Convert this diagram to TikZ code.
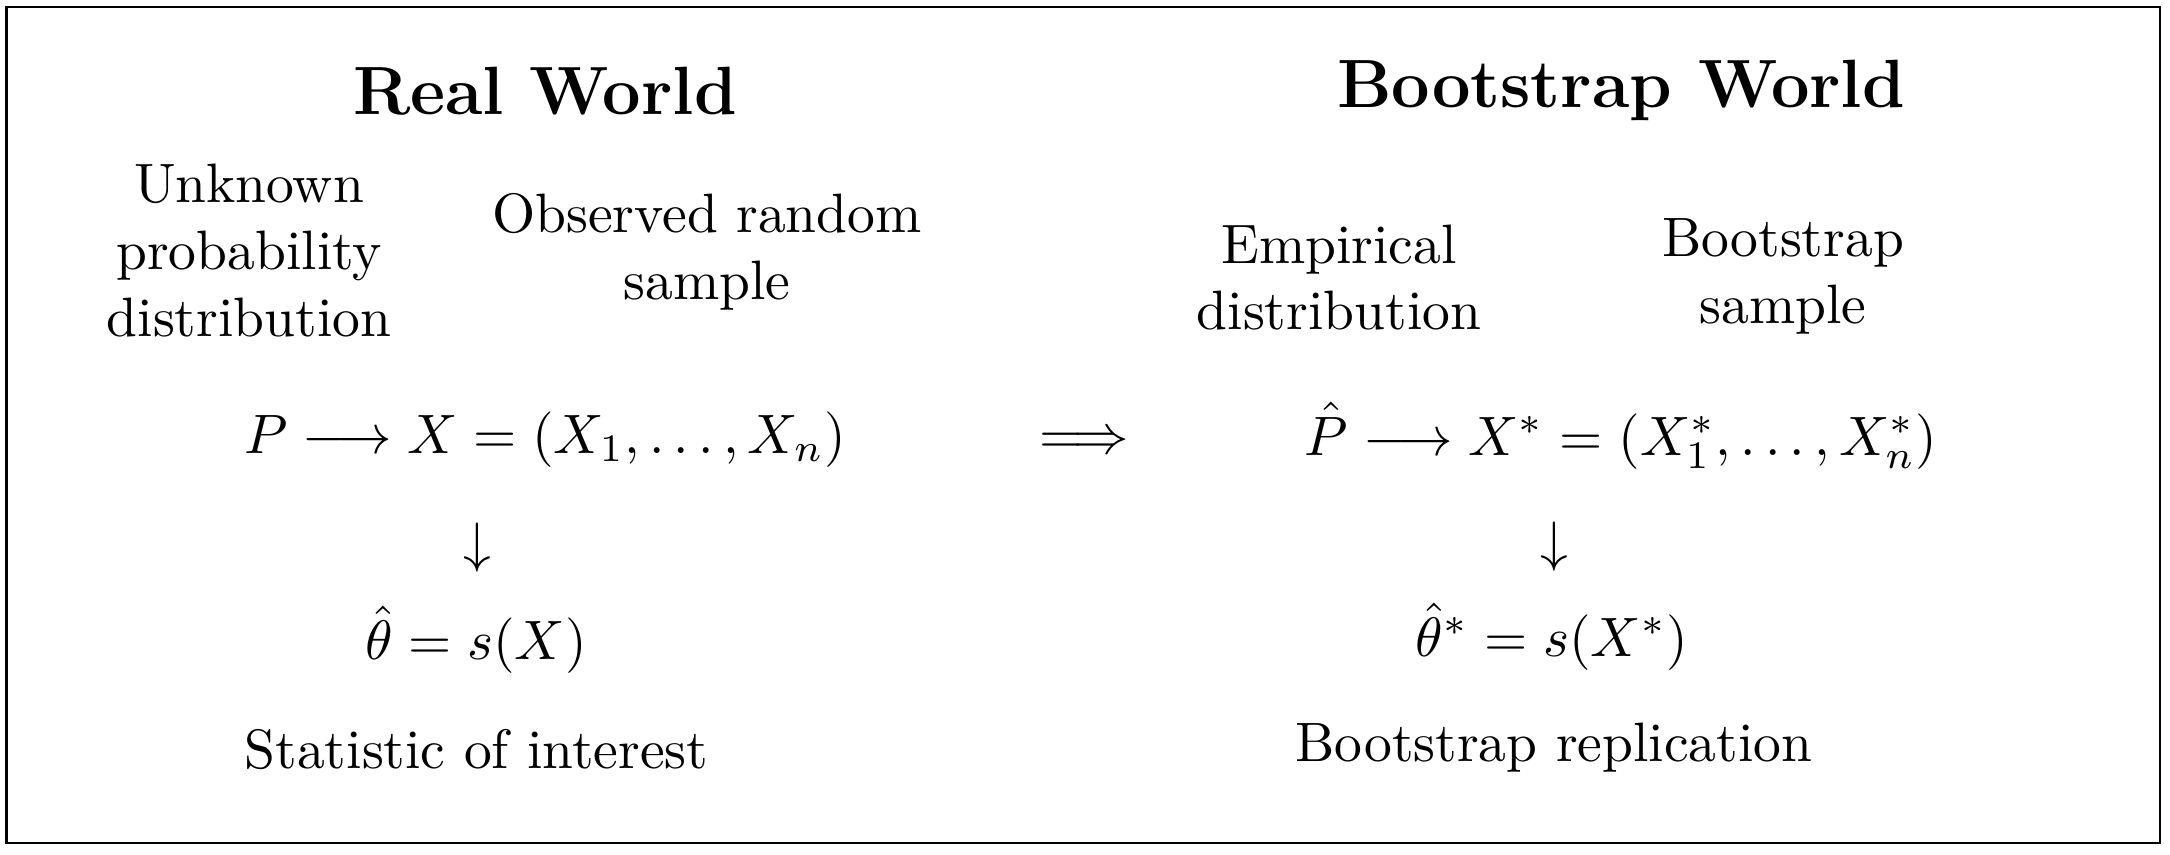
\documentclass[tikz,border=0pt]{standalone}
\begin{document}
\begin{tikzpicture}[x=1cm,y=1cm, txt/.style={scale=1.58, anchor=base}, blk/.style={scale=1.58, align=center}, ttl/.style={scale=1.62, anchor=base, font=\large\bfseries}]
\useasboundingbox (0,0) rectangle (21.7,-8.54);
\draw[line width=0.6pt] (0.065,-0.07) rectangle (21.6,-8.43);
\node[ttl] (real) at (5.45,-1.145) {Real World};
\node[ttl] (boot) at (16.21,-1.07) {Bootstrap World};
\node[blk] (unk) at (2.49,-2.505) {Unknown\\ probability\\ distribution};
\node[blk] (obs) at (7.07,-2.515) {Observed random\\ sample};
\node[blk] (emp) at (13.39,-2.775) {Empirical\\ distribution};
\node[blk] (bsamp) at (17.83,-2.765) {Bootstrap\\ sample};
\node[txt] (realrow) at (5.45,-4.53) {$P \longrightarrow X = (X_1, \ldots, X_n)$};
\node[txt] (implies) at (10.845,-4.53) {$\Longrightarrow$};
\node[txt] (bootrow) at (16.21,-4.55) {$\hat{P} \longrightarrow X^* = (X_1^*, \ldots, X_n^*)$};
\node[txt] (down1) at (4.77,-5.61) {$\downarrow$};
\node[txt] (down2) at (15.54,-5.60) {$\downarrow$};
\node[txt] (stat) at (4.76,-6.59) {$\hat{\theta} = s(X)$};
\node[txt] (bstat) at (15.52,-6.56) {$\hat{\theta}^* = s(X^*)$};
\node[txt] (statlbl) at (4.765,-7.68) {Statistic of interest};
\node[txt] (replbl) at (15.54,-7.61) {Bootstrap replication};
\end{tikzpicture}
\end{document}
